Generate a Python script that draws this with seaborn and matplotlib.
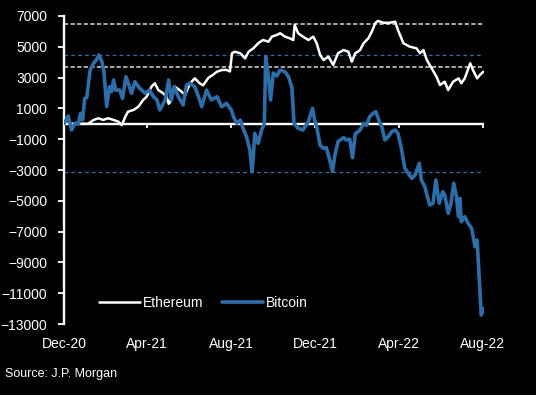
import matplotlib
matplotlib.use('Agg')
import matplotlib.pyplot as plt
import pandas as pd
import seaborn as sns

# Ethereum series
eth_dates = ['2020-12-01', '2020-12-20', '2021-01-05', '2021-01-13', '2021-01-20', '2021-01-27',
             '2021-02-03', '2021-02-11', '2021-02-18', '2021-02-23', '2021-02-28', '2021-03-04',
             '2021-03-12', '2021-03-19', '2021-03-26', '2021-03-31', '2021-04-07', '2021-04-12',
             '2021-04-17', '2021-04-24', '2021-04-29', '2021-05-02', '2021-05-04', '2021-05-11',
             '2021-05-18', '2021-05-26', '2021-06-02', '2021-06-09', '2021-06-16', '2021-06-21',
             '2021-06-29', '2021-07-05', '2021-07-11', '2021-07-18', '2021-07-25', '2021-07-30',
             '2021-08-02', '2021-08-06', '2021-08-14', '2021-08-21', '2021-08-26', '2021-09-02',
             '2021-09-09', '2021-09-16', '2021-09-24', '2021-09-29', '2021-10-06', '2021-10-11',
             '2021-10-18', '2021-10-25', '2021-10-30', '2021-11-01', '2021-11-06', '2021-11-13',
             '2021-11-21', '2021-11-28', '2021-12-03', '2021-12-08', '2021-12-13', '2021-12-20',
             '2021-12-27', '2022-01-03', '2022-01-11', '2022-01-18', '2022-01-23', '2022-01-28',
             '2022-02-04', '2022-02-09', '2022-02-16', '2022-02-21', '2022-02-26', '2022-03-02',
             '2022-03-10', '2022-03-19', '2022-03-27', '2022-03-31', '2022-04-08', '2022-04-17',
             '2022-04-27', '2022-05-02', '2022-05-07', '2022-05-12', '2022-05-19', '2022-05-26',
             '2022-05-31', '2022-06-07', '2022-06-12', '2022-06-19', '2022-06-27', '2022-07-01',
             '2022-07-06', '2022-07-14', '2022-07-18', '2022-07-24', '2022-07-28', '2022-08-02']
eth_values = [0, 0, 0, 250, 360, 250,
              360, 250, 140, -80, 460, 790,
              900, 1110, 1550, 1760, 2410, 2630,
              2190, 1980, 1760, 1300, 1400, 2410,
              2190, 1870, 2630, 2950, 2630, 2500,
              3000, 3170, 3380, 3490, 3500, 3400,
              4580, 4680, 4580, 4250, 4680, 4900,
              5230, 5440, 5330, 5660, 5770, 5880,
              5660, 5550, 5440, 6420, 5880, 5660,
              5440, 5660, 5230, 4470, 4140, 4360,
              3820, 4580, 4790, 4680, 4030, 4580,
              4790, 5230, 5550, 5980, 6530, 6680,
              6560, 6560, 6630, 6090, 5230, 5010,
              4900, 4580, 4790, 4140, 3600, 3060,
              2520, 2730, 2190, 2730, 2950, 2630,
              2950, 3930, 3490, 2950, 3170, 3380]

# Bitcoin series
btc_dates = ['2020-12-01', '2020-12-07', '2020-12-12', '2020-12-17', '2020-12-22', '2020-12-25',
             '2020-12-28', '2020-12-31', '2021-01-03', '2021-01-08', '2021-01-13', '2021-01-17',
             '2021-01-21', '2021-01-25', '2021-01-28', '2021-02-01', '2021-02-05', '2021-02-08',
             '2021-02-11', '2021-02-14', '2021-02-20', '2021-02-24', '2021-03-01', '2021-03-06',
             '2021-03-09', '2021-03-14', '2021-03-21', '2021-03-29', '2021-04-04', '2021-04-10',
             '2021-04-15', '2021-04-19', '2021-04-27', '2021-05-02', '2021-05-06', '2021-05-10',
             '2021-05-16', '2021-05-23', '2021-05-28', '2021-06-02', '2021-06-09', '2021-06-16',
             '2021-06-19', '2021-06-26', '2021-07-03', '2021-07-11', '2021-07-18', '2021-07-25',
             '2021-08-01', '2021-08-04', '2021-08-09', '2021-08-14', '2021-08-18', '2021-08-23',
             '2021-08-28', '2021-08-31', '2021-09-02', '2021-09-04', '2021-09-09', '2021-09-14',
             '2021-09-18', '2021-09-20', '2021-09-24', '2021-09-27', '2021-10-01', '2021-10-06',
             '2021-10-11', '2021-10-18', '2021-10-23', '2021-10-28', '2021-10-31', '2021-11-06',
             '2021-11-13', '2021-11-21', '2021-11-27', '2021-11-30', '2021-12-03', '2021-12-08',
             '2021-12-13', '2021-12-17', '2021-12-22', '2021-12-26', '2021-12-29', '2022-01-03',
             '2022-01-11', '2022-01-15', '2022-01-20', '2022-01-24', '2022-01-28', '2022-02-04',
             '2022-02-09', '2022-02-13', '2022-02-18', '2022-02-23', '2022-02-27', '2022-03-04',
             '2022-03-07', '2022-03-12', '2022-03-17', '2022-03-22', '2022-03-27', '2022-03-31',
             '2022-04-05', '2022-04-10', '2022-04-15', '2022-04-20', '2022-04-25', '2022-05-01',
             '2022-05-04', '2022-05-09', '2022-05-16', '2022-05-21', '2022-05-25', '2022-05-30',
             '2022-06-04', '2022-06-07', '2022-06-12', '2022-06-16', '2022-06-20', '2022-06-24',
             '2022-06-27', '2022-06-29', '2022-07-01', '2022-07-06', '2022-07-11', '2022-07-16',
             '2022-07-21', '2022-07-24', '2022-07-27', '2022-07-30', '2022-08-03']
btc_values = [0, 500, -400, 50, 0, 680,
              250, 1650, 1700, 3500, 3930, 4140,
              4470, 4030, 3380, 1110, 2410, 2080,
              2840, 2190, 2190, 1650, 3060, 2410,
              1980, 2730, 2300, 1980, 2190, 1760,
              1550, 900, 1550, 2840, 1550, 2410,
              1760, 1220, 2520, 2630, 2410, 1550,
              1110, 2190, 1550, 1760, 1110, 1330,
              900, 460, 30, 250, -290, -840,
              -1700, -3110, -2140, -620, -1270, -400,
              30, 4360, 3060, 1550, 3300, 3100,
              3490, 3380, 3060, 2350, 30, -290,
              -400, 150, 1000, 250, -190, -1400,
              -1600, -1550, -2350, -3100, -2140, -1150,
              -900, -1050, -1000, -2200, -650, -400,
              30, -100, 460, 680, 790, 140,
              -80, -1050, -840, -510, -400, -620,
              -1600, -2890, -3210, -3540, -3320, -2560,
              -3650, -4080, -5270, -5160, -3650, -5160,
              -4410, -4620, -5810, -5160, -3860, -4730,
              -6030, -4840, -6360, -6030, -6460, -6790,
              -7980, -7550, -9930, -12420, -11980]

white_refs = [6450, 3700]
blue_refs = [4450, -3150]
y_ticks = list(range(-13000, 7001, 2000))
x_tick_dates = ['2020-12-01', '2021-04-01', '2021-08-01', '2021-12-01', '2022-04-01', '2022-08-01']
x_tick_labels = ['Dec-20', 'Apr-21', 'Aug-21', 'Dec-21', 'Apr-22', 'Aug-22']

blue = '#2e6ea8'

sns.set_theme(style='ticks', rc={'figure.facecolor': 'black', 'axes.facecolor': 'black',
                                 'text.color': 'white', 'xtick.color': 'white',
                                 'ytick.color': 'white', 'axes.edgecolor': 'white'})
plt.rcParams['font.family'] = ['Liberation Sans', 'DejaVu Sans']

df_eth = pd.DataFrame({'date': pd.to_datetime(eth_dates), 'value': eth_values})
df_btc = pd.DataFrame({'date': pd.to_datetime(btc_dates), 'value': btc_values})

fig = plt.figure(figsize=(5.36, 3.95), dpi=100)
ax = fig.add_axes([0.1194, 0.1797, 0.7836, 0.7798])

# reference lines
for v in white_refs:
    ax.axhline(v, color='#d9d9d9', lw=1.1, ls=(0, (2.8, 1.5)), zorder=1)
for v in blue_refs:
    ax.axhline(v, color=blue, lw=0.9, ls=(0, (3.0, 2.5)), zorder=1)
ax.axhline(0, color='white', lw=1.7, zorder=1.5)

sns.lineplot(data=df_eth, x='date', y='value', color='white', lw=1.8, ax=ax,
             label='Ethereum', zorder=2)
sns.lineplot(data=df_btc, x='date', y='value', color=blue, lw=2.6, ax=ax,
             label='Bitcoin', zorder=3)

ax.set_xlim(pd.Timestamp('2020-12-01'), pd.Timestamp('2022-08-03'))
ax.set_ylim(-13000, 7000)
ax.set_yticks(y_ticks)
ax.set_xticks(pd.to_datetime(x_tick_dates), x_tick_labels)
ax.set_xlabel('')
ax.set_ylabel('')
ax.tick_params(axis='x', length=0, pad=9, labelsize=10)
ax.tick_params(axis='y', direction='out', length=4, width=1.3, pad=8, labelsize=10)
for s in ['top', 'right', 'bottom']:
    ax.spines[s].set_visible(False)
ax.spines['left'].set_linewidth(1.7)
ax.spines['left'].set_color('white')

# tick marks on the zero line
zero_frac = (0 - (-13000)) / 20000
sec = ax.secondary_xaxis(zero_frac)
sec.set_alignment('bottom')
sec.set_xticks(matplotlib.dates.date2num(pd.to_datetime(x_tick_dates)))
sec.tick_params(axis='x', direction='out', length=3, width=1.3, colors='white',
                labelbottom=False, labeltop=False)
for s in sec.spines.values():
    s.set_visible(False)

ax.legend(loc='center left', bbox_to_anchor=(0.0833, 0.069), ncol=2, frameon=False,
          handlelength=2.95, handletextpad=0.2, columnspacing=1.37, borderpad=0,
          borderaxespad=0, fontsize=10)

fig.text(5 / 536, 1 - 374 / 395, 'Source: J.P. Morgan', fontsize=9, va='center', ha='left')

fig.savefig('out.png', dpi=100, facecolor='black')
